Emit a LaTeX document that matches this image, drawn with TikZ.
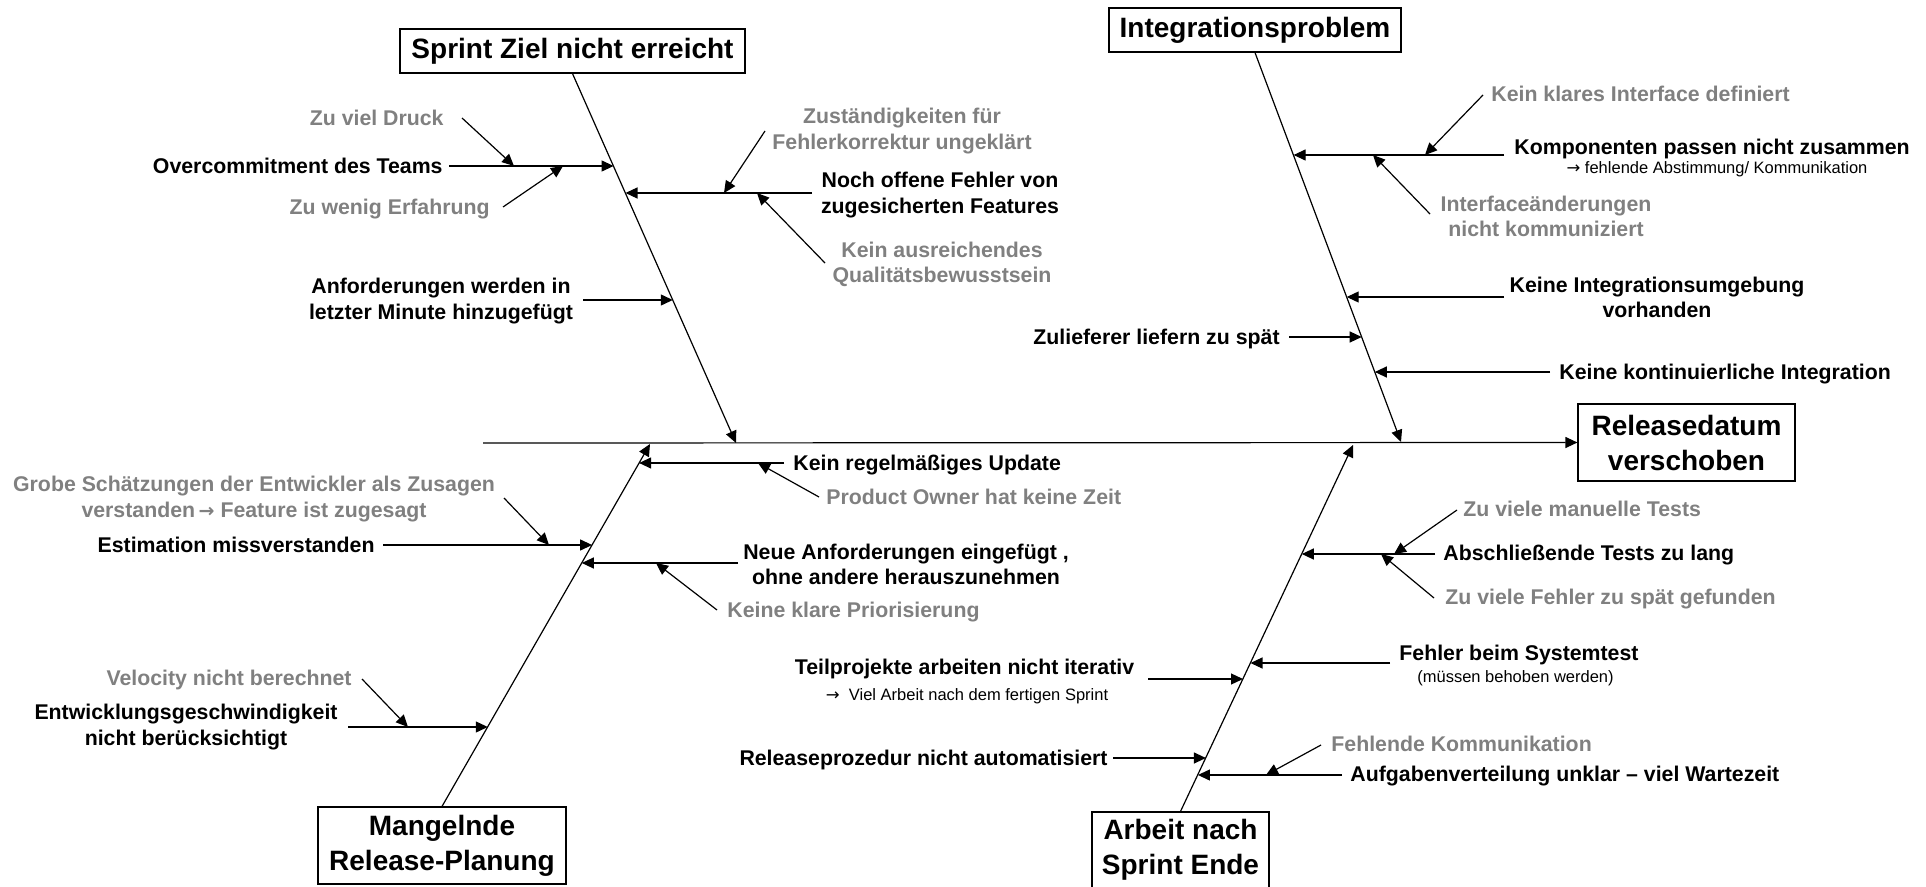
\documentclass[tikz,border=0pt]{standalone}
\usepackage{fontspec}
\setmainfont{Liberation Sans}
\newfontfamily\arrowfont{DejaVu Sans}
\usetikzlibrary{arrows.meta}

\definecolor{causegray}{RGB}{128,128,128}

% arrow glyphs inside the labels
\newcommand\boldcausearrow{{\arrowfont\bfseries\fontsize{9.5}{10}\selectfont →}}
\newcommand\notearrow{{\arrowfont →}}

\tikzset{
  bone/.style={line width=0.6pt, -{Triangle[length=6pt,width=5.5pt]}},
  cause/.style={font=\bfseries\fontsize{10.65}{12.6}\selectfont, inner sep=0pt, align=center},
  subcause/.style={cause, text=causegray},
  note/.style={font=\fontsize{8.25}{10}\selectfont, inner sep=0pt},
  headbox/.style={draw, line width=0.6pt, font=\bfseries\fontsize{14}{17.5}\selectfont,
                  align=center, inner sep=0pt},
}

\begin{document}
\begin{tikzpicture}[x=0.5pt, y=-0.5pt]
\useasboundingbox (0,0) rectangle (1926,887);
\clip (0,0) rectangle (1926,887);

% ---------- head boxes ----------
\node[headbox, minimum width=172.5pt, minimum height=22pt] (sprint) at (572.5,51) {Sprint Ziel nicht erreicht};
\node[headbox, minimum width=146pt, minimum height=22pt] (integ) at (1255,30) {Integrationsproblem};
\node[headbox, minimum width=108.5pt, minimum height=38.5pt] (rel) at (1686.5,442.5) {Releasedatum\\verschoben};
\node[headbox, minimum width=124pt, minimum height=38.5pt] (mangel) at (442,845.5) {Mangelnde\\Release-Planung};
\node[headbox, minimum width=88.5pt, minimum height=38pt] (arbeit) at (1180.5,850) {Arbeit nach\\Sprint Ende};

% ---------- spine and main bones ----------
\coordinate (spineL) at (483,443);
\coordinate (tSprint) at (736,443);
\coordinate (tInteg) at (1401,442);
\coordinate (tMangel) at (650,444);
\coordinate (tArbeit) at (1353,445);

\draw[bone] (spineL) -- (rel.west);
\draw[bone] (sprint.south) -- (tSprint);
\draw[bone] (integ.south) -- (tInteg);
\draw[bone] (mangel.north) -- (tMangel);
\draw[bone] (arbeit.north) -- (tArbeit);

% ---------- Sprint Ziel nicht erreicht ----------
\node[subcause, anchor=base east] (zvd) at (444,125.5) {Zu viel Druck};
\node[cause, anchor=base east] (over) at (443,173.5) {Overcommitment des Teams};
\node[subcause, anchor=base east] (zwe) at (490,214.5) {Zu wenig Erfahrung};
\node[subcause] (zust) at (902,131) {Zuständigkeiten für\\Fehlerkorrektur ungeklärt};
\node[cause] (noch) at (940,195) {Noch offene Fehler von\\zugesicherten Features};
\node[subcause] (ausr) at (942,264) {Kein ausreichendes\\Qualitätsbewusstsein};
\node[cause] (anf) at (441,301) {Anforderungen werden in\\letzter Minute hinzugefügt};

\coordinate (oS) at (449,166);   \coordinate (oT) at (613.6,166);
\coordinate (zvdS) at (462,118); \coordinate (zvdT) at (514,166);
\coordinate (zweS) at (503,207); \coordinate (zweT) at (563,166);
\coordinate (nS) at (812,193);   \coordinate (nT) at (625.5,193);
\coordinate (zuS) at (765,131);  \coordinate (zuT) at (724,193);
\coordinate (kaS) at (825,263);  \coordinate (kaT) at (757,193);
\coordinate (aS) at (583,300);   \coordinate (aT) at (672.8,300);

\draw[bone] (oS) -- (oT);
\draw[bone] (zvdS) -- (zvdT);
\draw[bone] (zweS) -- (zweT);
\draw[bone] (nS) -- (nT);
\draw[bone] (zuS) -- (zuT);
\draw[bone] (kaS) -- (kaT);
\draw[bone] (aS) -- (aT);

% ---------- Integrationsproblem ----------
\node[subcause, anchor=base west] (kki) at (1491,101.5) {Kein klares Interface definiert};
\node[cause, anchor=base west] (komp) at (1514,154.5) {Komponenten passen nicht zusammen};
\node[note, anchor=base] (kompn) at (1717,174) {\notearrow\ fehlende Abstimmung/ Kommunikation};
\node[subcause] (intf) at (1546,216) {Interfaceänderungen\\nicht kommuniziert};
\node[cause] (kiu) at (1657,297) {Keine Integrationsumgebung\\vorhanden};
\node[cause, anchor=base east] (zul) at (1280,344.5) {Zulieferer liefern zu spät};
\node[cause, anchor=base west] (kci) at (1559,379.5) {Keine kontinuierliche Integration};

\coordinate (kS) at (1504,155);   \coordinate (kT) at (1293.6,155);
\coordinate (kkS) at (1483,95);   \coordinate (kkT) at (1425,155);
\coordinate (ifS) at (1430,214);  \coordinate (ifT) at (1373,155);
\coordinate (iuS) at (1504,297);  \coordinate (iuT) at (1346.7,297);
\coordinate (zlS) at (1289,337);  \coordinate (zlT) at (1361.7,337);
\coordinate (kcS) at (1550,372);  \coordinate (kcT) at (1374.8,372);

\draw[bone] (kS) -- (kT);
\draw[bone] (kkS) -- (kkT);
\draw[bone] (ifS) -- (ifT);
\draw[bone] (iuS) -- (iuT);
\draw[bone] (zlS) -- (zlT);
\draw[bone] (kcS) -- (kcT);

% ---------- Mangelnde Release-Planung ----------
\node[cause, anchor=base west] (upd) at (793,470.5) {Kein regelmäßiges Update};
\node[subcause, anchor=base west] (po) at (826,504.5) {Product Owner hat keine Zeit};
\node[subcause] (grobe) at (254,499) {Grobe Schätzungen der Entwickler als Zusagen\\verstanden\,\boldcausearrow\ Feature ist zugesagt};
\node[cause, anchor=base east] (est) at (375,552.5) {Estimation missverstanden};
\node[cause] (neue) at (906,564) {Neue Anforderungen eingefügt ,\\ohne andere herauszunehmen};
\node[subcause, anchor=base west] (prio) at (727,617.5) {Keine klare Priorisierung};
\node[subcause, anchor=base east] (vel) at (352,685.5) {Velocity nicht berechnet};
\node[cause] (entw) at (186,727) {Entwicklungsgeschwindigkeit\\nicht berücksichtigt};

\coordinate (uS) at (784,463);    \coordinate (uT) at (639.1,463);
\coordinate (poS) at (819,497);   \coordinate (poT) at (758,463);
\coordinate (eS) at (383,545);    \coordinate (eT) at (592.1,545);
\coordinate (gS) at (504,498);    \coordinate (gT) at (549,545);
\coordinate (nuS) at (738,563);   \coordinate (nuT) at (581.8,563);
\coordinate (prS) at (717,610);   \coordinate (prT) at (656,563);
\coordinate (ewS) at (348,727);   \coordinate (ewT) at (487.8,727);
\coordinate (vS) at (362,679);    \coordinate (vT) at (408,727);

\draw[bone] (uS) -- (uT);
\draw[bone] (poS) -- (poT);
\draw[bone] (eS) -- (eT);
\draw[bone] (gS) -- (gT);
\draw[bone] (nuS) -- (nuT);
\draw[bone] (prS) -- (prT);
\draw[bone] (ewS) -- (ewT);
\draw[bone] (vS) -- (vT);

% ---------- Arbeit nach Sprint Ende ----------
\node[subcause, anchor=base west] (zmt) at (1463,516.5) {Zu viele manuelle Tests};
\node[cause, anchor=base west] (abt) at (1443,560.5) {Abschließende Tests zu lang};
\node[subcause, anchor=base west] (zvf) at (1445,604.5) {Zu viele Fehler zu spät gefunden};
\node[cause, anchor=base west] (fbs) at (1399,660.5) {Fehler beim Systemtest};
\node[note, anchor=base] (fbsn) at (1515.5,682) {(müssen behoben werden)};
\node[cause, anchor=base] (teil) at (964.5,674.5) {Teilprojekte arbeiten nicht iterativ};
\node[note, anchor=base] (teiln) at (967,700) {\notearrow\ \ Viel Arbeit nach dem fertigen Sprint};
\node[cause, anchor=base east] (proc) at (1108,765.5) {Releaseprozedur nicht automatisiert};
\node[subcause, anchor=base west] (fk) at (1331,751.5) {Fehlende Kommunikation};
\node[cause, anchor=base west] (auf) at (1350,781.5) {Aufgabenverteilung unklar – viel Wartezeit};

\coordinate (atS) at (1435,554);  \coordinate (atT) at (1301.8,554);
\coordinate (zmS) at (1457,510);  \coordinate (zmT) at (1394,554);
\coordinate (zfS) at (1434,598);  \coordinate (zfT) at (1381,554);
\coordinate (fsS) at (1390,663);  \coordinate (fsT) at (1250.5,663);
\coordinate (tpS) at (1148,679);  \coordinate (tpT) at (1243,679);
\coordinate (rpS) at (1113,758);  \coordinate (rpT) at (1205.9,758);
\coordinate (auS) at (1342,775);  \coordinate (auT) at (1197.9,775);
\coordinate (fkS) at (1321,745);  \coordinate (fkT) at (1266,775);

\draw[bone] (atS) -- (atT);
\draw[bone] (zmS) -- (zmT);
\draw[bone] (zfS) -- (zfT);
\draw[bone] (fsS) -- (fsT);
\draw[bone] (tpS) -- (tpT);
\draw[bone] (rpS) -- (rpT);
\draw[bone] (auS) -- (auT);
\draw[bone] (fkS) -- (fkT);
\end{tikzpicture}
\end{document}
